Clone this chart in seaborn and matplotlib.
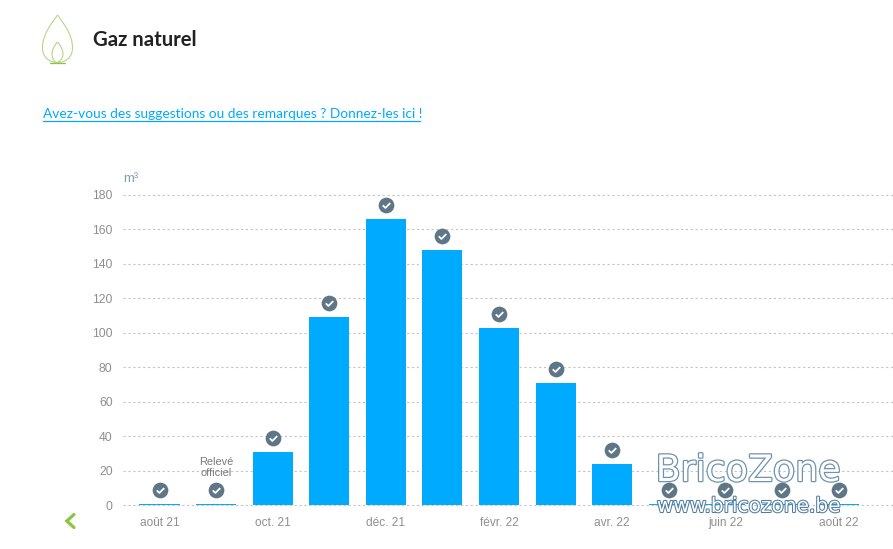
import matplotlib
matplotlib.use("Agg")
import matplotlib.pyplot as plt
import matplotlib.patheffects as pe
from matplotlib.path import Path
from matplotlib.patches import PathPatch
from matplotlib.transforms import offset_copy
import pandas as pd
import seaborn as sns

months = ["août 21", "sept. 21", "oct. 21", "nov. 21", "déc. 21", "janv. 22", "févr. 22",
          "mars 22", "avr. 22", "mai 22", "juin 22", "juil. 22", "août 22"]
values = [0.8, 0.8, 31, 109, 166, 148, 103, 71, 24, 0.8, 0.8, 0.8, 0.8]
yticks = [0, 20, 40, 60, 80, 100, 120, 140, 160, 180]
title = "Gaz naturel"
link = "Avez-vous des suggestions ou des remarques ? Donnez-les ici !"

W, H = 893, 549
sns.set_theme(style="white")
plt.rcParams["font.family"] = ["Liberation Sans", "DejaVu Sans"]
fig = plt.figure(figsize=(W / 100, H / 100), dpi=100, facecolor="white")

# plot area in pixels
left, right, top, bottom = 123, 893, 194.9, 505.4
ax = fig.add_axes([left / W, 1 - bottom / H, (right - left) / W, (bottom - top) / H])
df = pd.DataFrame({"month": months, "value": values})
sns.barplot(data=df, x="month", y="value", color="#00AAFF", saturation=1, width=0.707, ax=ax, zorder=3,
            linewidth=0, edgecolor="none")
for b in ax.patches:
    b.set_clip_on(False)
ax.set_xlim(-0.645, 12.96)
ax.set_ylim(0, 180)
ax.set_yticks(yticks)
ax.set_xticks(range(0, 13, 2))
ax.set_xticklabels(months[0::2])
ax.set_xlabel("")
ax.set_ylabel("")
for s in ax.spines.values():
    s.set_visible(False)
ax.yaxis.grid(True, color="#C4C4C4", linestyle=(0, (2, 2.4)), linewidth=0.8, zorder=0)
ax.xaxis.grid(False)
ax.set_axisbelow(True)
for l in ax.yaxis.get_gridlines():
    l.set_clip_on(False)
ax.tick_params(axis="y", length=0, pad=7.5, labelsize=8.7, labelcolor="#8F8F8F")
ax.tick_params(axis="x", length=0, pad=8.2, labelsize=8.6, labelcolor="#8F8F8F")

# status markers, floating a fixed distance over each bar
mark_tr = offset_copy(ax.transData, fig=fig, x=0, y=14.2 * 72 / 100, units="points")
xs = list(range(len(values)))
ax.scatter(xs, values, s=128, color="#5F7687", transform=mark_tr, clip_on=False, zorder=5, linewidths=0)
check = Path([(-1, 0.05), (-0.3, -0.65), (1, 0.65)], [1, 2, 2])
ax.plot(xs, values, linestyle="none", marker=check, markersize=5.4, markerfacecolor="none",
        markeredgecolor="white", markeredgewidth=1.3, transform=mark_tr, clip_on=False, zorder=6)

# page furniture in pixel coordinates
ov = fig.add_axes([0, 0, 1, 1], facecolor="none")
ov.set_xlim(0, W)
ov.set_ylim(H, 0)
ov.axis("off")

ov.text(216, 467.5, "Relevé\nofficiel", ha="center", va="center", fontsize=7.9, color="#7A7A7A", linespacing=1.2)
ov.text(123, 178.5, "m³", ha="left", va="center", fontsize=9.4, color="#7F9FAE")

ov.text(93, 40.5, title, fontsize=14.6, fontweight="bold", family="Lato", color="#222222", ha="left", va="center")
ov.text(43, 114, link, fontsize=9.9, family="Lato", color="#00AAFF", ha="left", va="center")
ov.plot([43, 420], [120.5, 120.5], color="#00AAFF", lw=0.9)

# flame icon
outer = Path([(57.5, 15), (53, 22), (42.5, 33), (42.5, 48), (42.5, 57), (49, 62.5), (57.5, 62.5),
              (66, 62.5), (72.5, 57), (72.5, 48), (72.5, 33), (62, 22), (57.5, 15)],
             [1, 4, 4, 4, 4, 4, 4, 4, 4, 4, 4, 4, 4])
inner = Path([(57.5, 42), (55, 45), (52, 49), (52, 54), (52, 58), (54, 61), (56, 62.5),
              (59, 62.5), (63, 59), (63, 54), (63, 49), (60, 45), (57.5, 42)],
             [1, 4, 4, 4, 4, 4, 4, 4, 4, 4, 4, 4, 4])
for p in (outer, inner):
    ov.add_patch(PathPatch(p, fill=False, edgecolor="#B5D68A", lw=0.8))
ov.plot([50, 65], [62.5, 62.5], color="#8CC63F", lw=0.9)

# back chevron
ov.plot([74, 66.8, 74], [514.5, 521, 527.5], color="#8CC63F", lw=2.3, solid_joinstyle="miter")

# watermark
ov.text(748, 471, "BricoZone", fontsize=26.2, family="DejaVu Sans", color="white", ha="center", va="center",
        path_effects=[pe.Stroke(linewidth=1.8, foreground="#6F93AE"), pe.Normal()], zorder=8)
ov.text(749, 506.5, "www.bricozone.be", fontsize=14.5, family="DejaVu Sans", color="white", ha="center", va="center",
        path_effects=[pe.Stroke(linewidth=1.5, foreground="#4F7CA0"), pe.Normal()], zorder=8)

fig.savefig("out.png", dpi=100)
